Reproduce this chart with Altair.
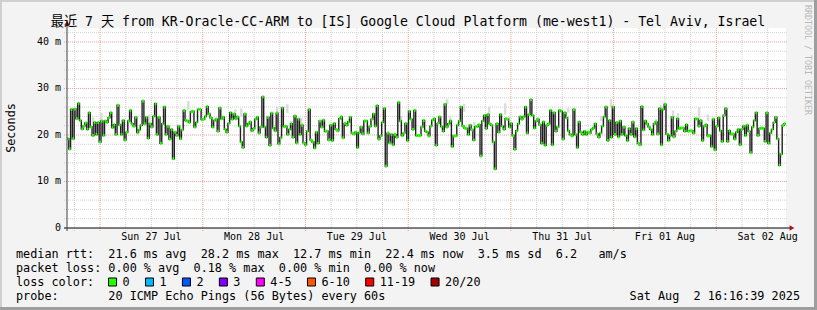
import altair as alt
import pandas as pd

# ---------------- data ----------------
T_START = "2025-07-26T16:16:39"
T_END = "2025-08-02T16:16:39"

rtt_a = [19.2, 17.0, 25.5, 19.2, 25.6, 23.5, 26.8, 23.1, 21.3, 21.9, 22.6, 21.2, 24.8, 21.7, 19.9, 22.7,
         20.1, 22.7, 18.5, 23.0, 19.9, 23.0, 22.7, 23.7, 24.8, 21.6, 22.2, 20.1, 26.4, 22.2, 20.1, 23.1,
         18.9, 20.6, 23.0, 25.3, 22.4, 21.9, 23.8, 20.5, 21.1, 22.1, 27.3, 22.4, 23.8, 19.3, 22.4, 21.7,
         24.0, 26.7, 20.1, 23.8, 18.2, 22.4, 26.0, 20.1, 21.9, 19.1, 21.2, 14.9, 20.6, 19.9, 21.9, 19.2,
         21.1, 25.3, 23.1, 23.0, 22.7, 25.0, 25.1, 21.7, 22.7, 25.5, 25.5, 23.3]
rtt_b = [23.4, 24.0, 26.1, 24.5, 23.7, 21.7, 23.1, 23.4, 20.8, 25.8, 23.5, 23.8, 21.2, 20.6, 22.5, 24.8,
         23.4, 24.5, 23.5, 23.9, 21.9, 18.5, 17.3, 24.5, 21.9, 22.4, 22.8, 20.9, 21.4, 23.4, 23.8, 20.4,
         21.7, 28.2, 21.7, 19.5, 23.8, 17.8, 24.7, 21.5, 20.9, 24.7, 18.1, 19.4, 25.8, 21.8, 21.9, 20.1,
         21.2, 22.4, 19.5, 24.1, 18.3, 23.4, 20.1, 22.1, 18.3, 17.9, 20.8, 25.5, 18.9, 18.5, 17.2, 20.6,
         18.2, 23.0, 21.7, 23.2, 20.8, 20.8, 18.9, 22.1, 18.8, 22.5, 21.2, 20.9, 23.5, 23.9, 19.4, 22.5,
         22.1, 22.8]
rtt_c = [23.8, 20.4, 20.2, 20.6, 17.3, 20.5, 21.7, 20.2, 23.0, 23.0, 20.4, 21.8, 23.4, 24.5, 21.9, 26.3,
         19.1, 19.8, 22.7, 25.7, 13.3, 20.4, 18.3, 20.1, 17.9, 20.1, 19.5, 27.0, 23.0, 19.9, 20.4, 22.5,
         18.8, 25.1, 23.4, 21.2, 25.3, 19.9, 19.9, 19.9, 21.7, 23.1, 20.8, 20.6, 19.8, 21.9, 23.2, 23.5,
         17.8, 22.5, 23.9, 21.8, 20.8, 26.6, 21.7, 22.4, 23.0, 17.5, 19.8, 19.8, 22.1, 23.0, 26.0, 21.9,
         21.5, 21.4, 20.1, 22.1, 21.1, 18.9, 21.8, 21.8, 22.2, 15.5, 23.0, 24.2, 21.4, 24.4, 22.4, 22.1,
         18.5, 12.7]
rtt_d = [22.4, 20.6, 24.4, 21.9, 21.2, 23.5, 23.4, 21.7, 22.5, 19.9, 16.9, 20.9, 22.4, 23.9, 23.4, 23.9,
         26.0, 20.4, 24.4, 27.6, 24.2, 21.5, 23.0, 23.4, 22.2, 18.2, 22.8, 17.8, 22.1, 22.4, 25.3, 17.9,
         24.8, 20.8, 21.7, 25.3, 25.1, 19.1, 24.8, 23.7, 20.9, 20.1, 19.8, 25.5, 20.1, 17.3, 22.8, 20.6,
         20.1, 20.8, 20.1, 20.6, 20.4, 21.2, 21.5, 22.4, 20.2, 19.5, 20.4, 21.9, 23.9, 26.0, 18.8, 23.1,
         19.5, 26.0, 20.1, 22.7, 19.6, 23.0, 20.1, 21.7, 19.9, 18.8, 21.4, 20.1, 22.8, 19.6, 21.4, 18.2]
rtt_e = [17.9, 26.1, 21.1, 23.0, 22.4, 21.7, 21.2, 20.1, 22.4, 22.8, 20.2, 25.7, 17.9, 25.5, 26.6, 20.2,
         18.8, 19.9, 23.8, 19.6, 20.8, 23.5, 21.4, 21.5, 21.5, 20.8, 22.2, 20.8, 20.9, 20.9, 20.4, 23.5,
         23.4, 21.9, 23.1, 18.8, 21.9, 22.2, 19.8, 19.9, 17.5, 23.4, 16.8, 21.9, 23.7, 20.9, 18.6, 24.2,
         25.7, 18.6, 20.9, 20.2, 20.2, 19.1, 20.6, 21.2, 17.9, 21.2, 21.9, 19.9, 22.1, 20.8, 16.2, 21.7,
         23.1, 24.8, 19.9, 21.4, 21.5, 21.4, 18.6, 24.8, 18.2, 20.4, 21.2, 22.7, 23.8, 19.2, 13.5, 15.9,
         22.1, 22.4]
median_rtt_ms = rtt_a + rtt_b + rtt_c + rtt_d + rtt_e

smoke_time = ["2025-07-26T22:21", "2025-07-27T00:17", "2025-07-27T11:30", "2025-07-27T20:36",
              "2025-07-28T07:35", "2025-07-28T08:59", "2025-07-28T17:24", "2025-07-28T19:44",
              "2025-07-28T20:40", "2025-07-28T23:00", "2025-07-29T22:21", "2025-07-30T09:06",
              "2025-07-30T09:48", "2025-07-30T13:04", "2025-07-30T15:25", "2025-07-30T18:55",
              "2025-07-30T22:39", "2025-07-30T23:49", "2025-07-31T13:22", "2025-07-31T21:04",
              "2025-07-31T23:25", "2025-08-01T09:55", "2025-08-01T11:05", "2025-08-01T13:53",
              "2025-08-01T15:03", "2025-08-01T19:58", "2025-08-01T22:04", "2025-08-02T05:32",
              "2025-08-02T09:30"]
smoke_lo = [21.7, 23.0, 22.4, 25.3, 23.5, 23.9, 24.7, 24.7, 21.8, 22.1, 23.0, 26.6, 22.4, 25.0, 21.1,
            24.4, 24.4, 23.4, 24.8, 23.0, 26.0, 22.4, 25.7, 23.8, 23.5, 23.4, 23.0, 20.8, 22.1]
smoke_hi = [23.8, 24.8, 24.4, 27.3, 25.5, 25.7, 26.1, 26.6, 23.0, 23.7, 24.1, 27.7, 24.0, 26.7, 22.8,
            26.1, 26.8, 24.1, 25.8, 24.1, 27.7, 23.4, 26.4, 25.3, 24.7, 26.0, 24.4, 21.5, 23.4]

grid_days = ["2025-07-26", "2025-07-27", "2025-07-28", "2025-07-29", "2025-07-30",
             "2025-07-31", "2025-08-01", "2025-08-02"]
grid_hours = [0, 6, 12, 18]
y_major = [0, 10, 20, 30, 40]
y_minor = [2, 4, 6, 8, 12, 14, 16, 18, 22, 24, 26, 28, 32, 34, 36, 38, 42]

title_text = "最近 7 天 from KR-Oracle-CC-ARM to [IS] Google Cloud Platform (me-west1) - Tel Aviv, Israel"
rtt_avg, rtt_max, rtt_min, rtt_now, rtt_sd, rtt_ams = "21.6", "28.2", "12.7", "22.4", "3.5", "6.2"
loss_avg, loss_max, loss_min, loss_now = "0.00", "0.18", "0.00", "0.00"
loss_labels = ["0", "1", "2", "3", "4-5", "6-10", "11-19", "20/20"]
loss_colors = ["#26ff00", "#00b8ff", "#0059ff", "#7e00ff", "#ff00ff", "#ff5500", "#ff0000", "#a10000"]
probe_text = "20 ICMP Echo Pings (56 Bytes) every 60s"
stamp_text = "Sat Aug  2 16:16:39 2025"
watermark = "RRDTOOL / TOBI OETIKER"

# ---------------- layout ----------------
PAGE_W, PAGE_H = 817, 310
LEFT, TOP = 67, 28
W, H = 719, 200
MONO = "DejaVu Sans Mono"
LEG_FS = 11.8
CW = 0.602 * LEG_FS
Y_MAX = 43

def ms(ts):
    return int(ts.value // 10**6)

def iso(ts):
    return ts.strftime("%Y-%m-%dT%H:%M:%S") + "Z"

def nb(s):
    return s.replace(" ", "\u00a0")

t0, t1 = pd.Timestamp(T_START), pd.Timestamp(T_END)
n = len(median_rtt_ms)
step = (t1 - t0) / n
starts = [t0 + step * i for i in range(n)]
df = pd.DataFrame({"t": [iso(s) for s in starts],
                   "t2": [iso(s + step) for s in starts],
                   "v": median_rtt_ms})
line_df = pd.concat([df[["t", "v"]], pd.DataFrame({"t": [iso(t1)], "v": [median_rtt_ms[-1]]})],
                    ignore_index=True)

smoke_df = pd.DataFrame({"t": [iso(pd.Timestamp(s)) for s in smoke_time], "lo": smoke_lo, "hi": smoke_hi})

grid_t_minor, grid_t_major = [], []
for d in grid_days:
    for h in grid_hours:
        ts = pd.Timestamp(d) + pd.Timedelta(hours=h)
        if t0 < ts < t1:
            (grid_t_major if h == 0 else grid_t_minor).append(iso(ts))
noons = [pd.Timestamp(d) + pd.Timedelta(hours=12) for d in grid_days]
noons = [ts for ts in noons if t0 < ts < t1]
xlab_df = pd.DataFrame({"t": [iso(ts) for ts in noons], "lab": [ts.strftime("%a %d %b") for ts in noons]})
ylab_df = pd.DataFrame({"v": y_major, "lab": ["0" if v == 0 else f"{v} m" for v in y_major]})

xscale = alt.Scale(type="utc", domain=[ms(t0), ms(t1)])
yscale = alt.Scale(domain=[0, Y_MAX], nice=False, zero=False)
one = pd.DataFrame({"a": [0]})


def rect(x, x2, y, y2, color):
    return alt.Chart(one).mark_rect(color=color).encode(
        x=alt.value(x), x2=alt.value(x2), y=alt.value(y), y2=alt.value(y2))


def text(s, x, y, **kw):
    return alt.Chart(one).mark_text(text=s, font=MONO, **kw).encode(x=alt.value(x), y=alt.value(y))


def xgrid(vals, color):
    return alt.Chart(pd.DataFrame({"t": vals})).mark_rule(color=color, strokeDash=[1, 1], strokeWidth=1).encode(
        x=alt.X("t:T", scale=xscale, axis=None), y=alt.value(0), y2=alt.value(H + 3))


def ygrid(vals, color):
    return alt.Chart(pd.DataFrame({"v": vals})).mark_rule(color=color, strokeDash=[1, 1], strokeWidth=1).encode(
        y=alt.Y("v:Q", scale=yscale, axis=None), x=alt.value(-3), x2=alt.value(W + 2))


layers = [xgrid(grid_t_minor, "#d2d2d2"), ygrid(y_minor, "#d2d2d2"),
          xgrid(grid_t_major, "#f0a0a0"), ygrid([v for v in y_major if v > 0], "#f0a0a0")]

# frame
layers += [rect(-LEFT, PAGE_W - LEFT, -TOP, -TOP + 2, "#cfcfcf"),
           rect(-LEFT, -LEFT + 2, -TOP, PAGE_H - TOP, "#cfcfcf"),
           rect(-LEFT, PAGE_W - LEFT, PAGE_H - TOP - 3, PAGE_H - TOP, "#9e9e9e"),
           rect(PAGE_W - LEFT - 3, PAGE_W - LEFT, -TOP, PAGE_H - TOP, "#9e9e9e")]

# axis labels, placed through the scales
layers.append(alt.Chart(xlab_df).mark_text(font=MONO, fontSize=10, color="#000000", align="center",
                                           baseline="middle").encode(
    x=alt.X("t:T", scale=xscale, axis=None), y=alt.value(H + 9), text="lab:N"))
layers.append(alt.Chart(ylab_df).mark_text(font=MONO, fontSize=10, color="#000000", align="right",
                                           baseline="middle").encode(
    y=alt.Y("v:Q", scale=yscale, axis=None), x=alt.value(-6), text="lab:N"))

# smoke
layers.append(alt.Chart(smoke_df).mark_rule(color="#dcdcdc", strokeWidth=2.5).encode(
    x=alt.X("t:T", scale=xscale, axis=None),
    y=alt.Y("lo:Q", scale=yscale, axis=None), y2="hi:Q"))

# median step line
layers.append(alt.Chart(line_df).mark_line(interpolate="step-after", color="#202020", strokeWidth=1.4).encode(
    x=alt.X("t:T", scale=xscale, axis=None),
    y=alt.Y("v:Q", scale=yscale, axis=None)))

# loss-coloured median marks
layers.append(alt.Chart(df).mark_rule(color=loss_colors[0], strokeWidth=3).encode(
    x=alt.X("t:T", scale=xscale, axis=None), x2="t2:T",
    y=alt.Y("v:Q", scale=yscale, axis=None)))

# axis lines and arrows
layers.append(alt.Chart(one).mark_rule(color="#000000", strokeWidth=1).encode(
    x=alt.value(-3), x2=alt.value(W + 5), y=alt.value(H)))
layers.append(alt.Chart(one).mark_rule(color="#404040", strokeWidth=1).encode(
    x=alt.value(0), y=alt.value(H + 3), y2=alt.value(-3)))
layers.append(alt.Chart(one).mark_point(shape="triangle-right", filled=True, color="#9b1c1c", size=30, opacity=1).encode(
    x=alt.value(W + 6), y=alt.value(H)))
layers.append(alt.Chart(one).mark_point(shape="triangle-up", filled=True, color="#9b1c1c", size=30, opacity=1).encode(
    x=alt.value(0), y=alt.value(-5)))

# texts
layers.append(alt.Chart(one).mark_text(text=title_text, font=MONO + ", Noto Sans CJK SC", fontSize=13.2,
                                       align="center", baseline="alphabetic", color="#000000").encode(
    x=alt.value(408 - LEFT), y=alt.value(26 - TOP)))
layers.append(text("Seconds", 11 - LEFT, 128 - TOP, fontSize=LEG_FS, angle=270, align="center",
                   baseline="middle", color="#000000"))
layers.append(text(watermark, 807 - LEFT, 5 - TOP, fontSize=8.3, angle=90, align="left",
                   baseline="middle", color="#b8b8b8"))

TX = 16 - LEFT
line1 = (f"median rtt:  {rtt_avg} ms avg  {rtt_max} ms max  {rtt_min} ms min  "
         f"{rtt_now} ms now  {rtt_sd} ms sd  {rtt_ams}   am/s")
line2 = f"packet loss: {loss_avg} % avg  {loss_max} % max  {loss_min} % min  {loss_now} % now"
line4 = f"probe:       {probe_text}"
for s, yb in [(line1, 258), (line2, 272), ("loss color:", 286), (line4, 300)]:
    layers.append(text(nb(s), TX, yb - TOP, fontSize=LEG_FS, align="left", baseline="alphabetic",
                       color="#000000"))
layers.append(text(nb(stamp_text), 800 - LEFT, 300 - TOP, fontSize=LEG_FS, align="right",
                   baseline="alphabetic", color="#000000"))

col = 15.0
for lab, colr in zip(loss_labels, loss_colors):
    tx = 16 + col * CW
    layers.append(alt.Chart(one).mark_rect(fill=colr, stroke="#000000", strokeWidth=1).encode(
        x=alt.value(tx - 14 - LEFT), x2=alt.value(tx - 6 - LEFT),
        y=alt.value(278 - TOP), y2=alt.value(286 - TOP)))
    layers.append(text(nb(lab), tx - LEFT, 286 - TOP, fontSize=LEG_FS, align="left",
                       baseline="alphabetic", color="#000000"))
    col += len(lab) + 4.2

chart = alt.layer(*layers).properties(
    width=W, height=H,
    padding={"left": LEFT, "top": TOP, "right": PAGE_W - LEFT - W, "bottom": PAGE_H - TOP - H},
    autosize=alt.AutoSizeParams(type="none"),
    background="#f3f3f3",
).configure_view(fill="#ffffff", strokeWidth=0)

chart.save("out.html", embed_options={"renderer": "svg", "actions": False})
